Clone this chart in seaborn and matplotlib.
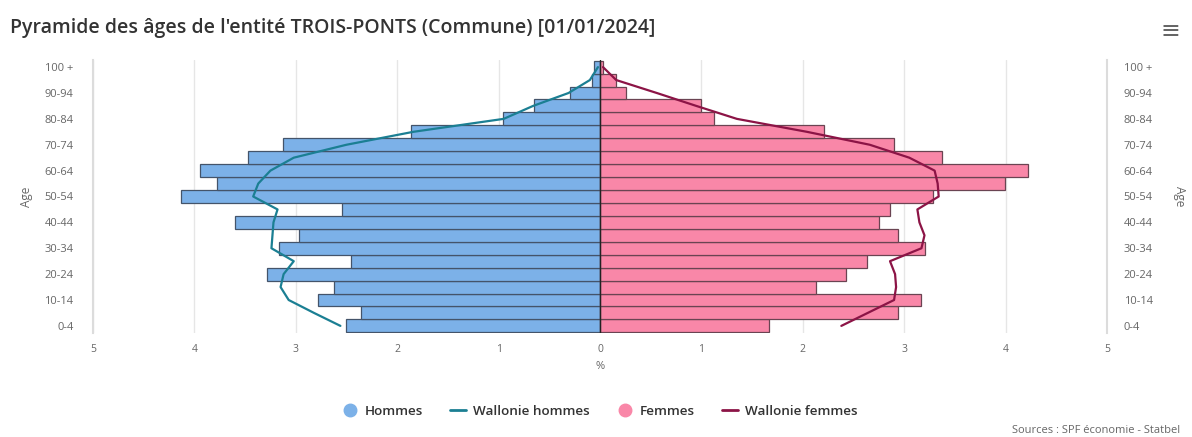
import numpy as np
import pandas as pd
import matplotlib
matplotlib.use("Agg")
import matplotlib.pyplot as plt
import seaborn as sns
from matplotlib.lines import Line2D

# age groups, bottom to top
ages = ['0-4', '5-9', '10-14', '15-19', '20-24', '25-29', '30-34', '35-39', '40-44', '45-49',
        '50-54', '55-59', '60-64', '65-69', '70-74', '75-79', '80-84', '85-89', '90-94', '95-99', '100 +']

# Trois-Ponts, % of population
hommes = [2.50, 2.36, 2.78, 2.62, 3.28, 2.46, 3.17, 2.97, 3.60, 2.54,
          4.13, 3.78, 3.94, 3.47, 3.13, 1.86, 0.96, 0.65, 0.30, 0.08, 0.06]
femmes = [1.67, 2.94, 3.17, 2.13, 2.43, 2.63, 3.21, 2.94, 2.75, 2.86,
          3.28, 3.99, 4.22, 3.37, 2.90, 2.21, 1.12, 1.00, 0.26, 0.16, 0.03]

# Wallonie reference, % of population
wal_hommes = [2.56, 2.82, 3.07, 3.15, 3.12, 3.02, 3.24, 3.23, 3.22, 3.18,
              3.42, 3.37, 3.25, 3.02, 2.50, 1.84, 0.95, 0.66, 0.31, 0.10, 0.02]
wal_femmes = [2.38, 2.64, 2.90, 2.92, 2.91, 2.86, 3.17, 3.20, 3.15, 3.13,
              3.34, 3.33, 3.30, 3.05, 2.66, 2.04, 1.35, 0.95, 0.56, 0.16, 0.03]

tick_ages = ['0-4', '10-14', '20-24', '30-34', '40-44', '50-54', '60-64', '70-74', '80-84', '90-94', '100 +']
xticks = [-5, -4, -3, -2, -1, 0, 1, 2, 3, 4, 5]

df = pd.DataFrame({'age': ages, 'hommes': hommes, 'femmes': femmes,
                   'wal_hommes': wal_hommes, 'wal_femmes': wal_femmes})
df['pos'] = np.arange(len(df))
df['hommes_neg'] = -df['hommes']
df['wal_hommes_neg'] = -df['wal_hommes']

sns.set_style('white')
plt.rcParams['font.family'] = ['Open Sans', 'DejaVu Sans']

blue = '#7cb1e8'
pink = '#f987a8'
teal = '#1b7f93'
maroon = '#8c1446'
txt = '#666666'

fig = plt.figure(figsize=(11.92, 4.37), dpi=100)
ax = fig.add_axes([0.078, 0.238, 0.8507, 0.6247])

sns.barplot(data=df, x='hommes_neg', y='pos', orient='h', native_scale=True, width=1,
            color=blue, saturation=1, edgecolor='#44546a', linewidth=0.9, ax=ax)
sns.barplot(data=df, x='femmes', y='pos', orient='h', native_scale=True, width=1,
            color=pink, saturation=1, edgecolor='#6a4452', linewidth=0.9, ax=ax)
sns.lineplot(data=df, x='wal_hommes_neg', y='pos', orient='y', sort=False,
             color=teal, lw=1.6, ax=ax)
sns.lineplot(data=df, x='wal_femmes', y='pos', orient='y', sort=False,
             color=maroon, lw=1.6, ax=ax)
ax.axvline(0, color='#222222', lw=1.0, zorder=5)

ax.set_xlim(-5, 5)
ax.set_ylim(-0.55, 20.55)
ax.set_xticks(xticks)
ax.set_xticklabels([str(abs(t)) for t in xticks], color=txt, fontsize=7.5)
ytick_pos = [ages.index(a) for a in tick_ages]
ax.set_yticks(ytick_pos)
ax.set_yticklabels(tick_ages, color=txt, fontsize=8)
ax.tick_params(axis='both', length=0, pad=14)
ax.tick_params(axis='x', pad=8)
ax.grid(axis='x', color='#e6e6e6', lw=1)
ax.set_axisbelow(True)
for s in ['top', 'bottom']:
    ax.spines[s].set_visible(False)
for s in ['left', 'right']:
    ax.spines[s].set_color('#dcdcdc')
    ax.spines[s].set_linewidth(1.5)
ax.set_xlabel('%', color=txt, fontsize=8, labelpad=4)
ax.set_ylabel('Age', color=txt, fontsize=8.5, labelpad=8)

ax2 = ax.twinx()
ax2.set_ylim(ax.get_ylim())
ax2.set_yticks(ytick_pos)
ax2.set_yticklabels(tick_ages, color=txt, fontsize=8)
ax2.tick_params(axis='y', length=0, pad=12)
for s in ax2.spines.values():
    s.set_visible(False)
ax2.set_ylabel('Age', color=txt, fontsize=8.5, rotation=270, labelpad=24)

fig.text(0.0085, 0.935, "Pyramide des âges de l'entité TROIS-PONTS (Commune) [01/01/2024]",
         fontsize=14, fontweight='semibold', color='#333333', ha='left', va='center')
fig.text(0.99, 0.93, '≡', fontsize=17, color='#666666', ha='right', va='center',
         family='DejaVu Sans')

handles = [
    Line2D([], [], marker='o', ls='none', markersize=9, markerfacecolor=blue, markeredgecolor=blue),
    Line2D([], [], color=teal, lw=2),
    Line2D([], [], marker='o', ls='none', markersize=9, markerfacecolor=pink, markeredgecolor=pink),
    Line2D([], [], color=maroon, lw=2),
]
labels = ['Hommes', 'Wallonie hommes', 'Femmes', 'Wallonie femmes']
leg = fig.legend(handles, labels, loc='center', bbox_to_anchor=(0.503, 0.059), ncol=4,
                 frameon=False, fontsize=9.7, handlelength=1.2, handletextpad=0.5,
                 columnspacing=2.0)
for t in leg.get_texts():
    t.set_color('#333333')
    t.set_fontweight('semibold')

fig.text(0.99, 0.003, 'Sources : SPF économie - Statbel', fontsize=8, color=txt,
         ha='right', va='bottom')

fig.savefig('out.png', dpi=100)
